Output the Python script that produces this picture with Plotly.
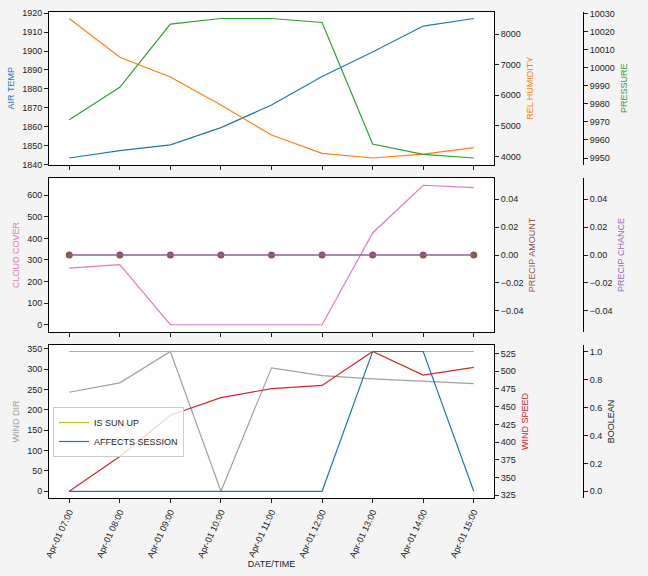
import plotly.graph_objects as go

# ---------------- data ----------------
times = ["2023-04-01 07:00", "2023-04-01 08:00", "2023-04-01 09:00", "2023-04-01 10:00",
         "2023-04-01 11:00", "2023-04-01 12:00", "2023-04-01 13:00", "2023-04-01 14:00",
         "2023-04-01 15:00"]
air_temp = [1843.4, 1847.3, 1850.4, 1859.5, 1871.4, 1886.5, 1899.5, 1913.2, 1917.2]
rel_humidity = [8510, 7240, 6600, 5680, 4700, 4100, 3950, 4080, 4290]
pressure = [9971.2, 9989.1, 10024.1, 10027.2, 10027.2, 10025.0, 9957.7, 9952.0, 9950.0]
cloud_cover = [262, 278, 0, 0, 0, 0, 425, 646, 635]
precip_amount = [0, 0, 0, 0, 0, 0, 0, 0, 0]
precip_chance = [0, 0, 0, 0, 0, 0, 0, 0, 0]
wind_dir = [243, 266, 343, 0, 303, 284, 276, 270, 264]
wind_speed = [330.6, 379.8, 437.9, 462.7, 475.4, 480.0, 527.8, 494.6, 505.4]
is_sun_up = [1, 1, 1, 1, 1, 1, 1, 1, 1]
affects_session = [0, 0, 0, 0, 0, 0, 1, 1, 0]

# ---------------- style ----------------
W, H = 648, 576
FONT = "Liberation Sans Narrow, Liberation Sans, Arial, sans-serif"
FS = 9
BG = "#f4f4f4"
C = dict(blue="#1f77b4", orange="#ff7f0e", green="#2ca02c", red="#d62728",
         purple="#9467bd", brown="#8c564b", pink="#e377c2", gray="#a0a0a0",
         olive="#bcbd22")


def pad(vals, frac=0.05):
    lo, hi = min(vals), max(vals)
    span = hi - lo
    if span == 0:
        lo, hi, span = lo - 0.05, hi + 0.05, 0.1
    return [lo - frac * span, hi + frac * span]


xdom = [49 / W, 494 / W]
ytop = [1 - 165 / H, 1 - 11.5 / H]
ymid = [1 - 331.7 / H, 1 - 178.3 / H]
ybot = [1 - 498.3 / H, 1 - 344.5 / H]
free_pos = 583 / W
xrange_ = ["2023-04-01 06:36", "2023-04-01 15:24"]

fig = go.Figure()
lw = 1.2


def line(x, y, color, xa, ya, name, legend=False, **kw):
    fig.add_trace(go.Scatter(x=x, y=y, mode="lines", line=dict(color=color, width=lw),
                             xaxis=xa, yaxis=ya, name=name, showlegend=legend, **kw))


# top panel
line(times, air_temp, C["blue"], "x", "y", "AIR TEMP")
line(times, rel_humidity, C["orange"], "x", "y2", "REL HUMIDITY")
line(times, pressure, C["green"], "x", "y3", "PRESSURE")
# middle panel
line(times, cloud_cover, C["pink"], "x2", "y4", "CLOUD COVER")
fig.add_trace(go.Scatter(x=times, y=precip_amount, mode="lines+markers",
                         line=dict(color=C["brown"], width=lw),
                         marker=dict(color=C["brown"], size=7),
                         xaxis="x2", yaxis="y5", name="PRECIP AMOUNT", showlegend=False))
line(times, precip_chance, C["purple"], "x2", "y6", "PRECIP CHANCE")
# bottom panel
line(times, wind_dir, C["gray"], "x3", "y7", "WIND DIR")
line(times, wind_speed, C["red"], "x3", "y8", "WIND SPEED")
line(times, is_sun_up, C["olive"], "x3", "y9", "IS SUN UP", legend=True)
line(times, affects_session, C["blue"], "x3", "y9", "AFFECTS SESSION", legend=True)

tickfont = dict(family=FONT, size=FS, color="#222222")


def yax(title, color, dom_or_overlay, rng, dtick, side="left", free=False, fmt=None,
        anchor=None, standoff=6):
    d = dict(title=dict(text=title, font=dict(family=FONT, size=FS, color=color),
                        standoff=standoff),
             range=rng, dtick=dtick, tick0=0, ticks="outside", ticklen=4, tickwidth=1,
             tickcolor="#222", tickfont=tickfont, showgrid=False, zeroline=False,
             showline=True, linecolor="black", linewidth=1, side=side,
             automargin=False, separatethousands=False)
    if fmt:
        d["tickformat"] = fmt
    if isinstance(dom_or_overlay, list):
        d["domain"] = dom_or_overlay
        d["mirror"] = True
        d["anchor"] = anchor
    else:
        d["overlaying"] = dom_or_overlay
        if free:
            d["anchor"] = "free"
            d["position"] = free_pos
        else:
            d["anchor"] = anchor
    return d


def xax(dom_anchor, labels):
    return dict(domain=xdom, anchor=dom_anchor, range=xrange_, type="date",
                tickformat="%b-%d %H:%M", dtick=3600000, tick0="2023-04-01 07:00",
                ticks="outside", ticklen=4, tickcolor="#222", tickfont=tickfont,
                showticklabels=labels, tickangle=-65, showgrid=False, zeroline=False,
                showline=True, linecolor="black", linewidth=1, mirror=True,
                automargin=False)


fig.update_layout(
    width=W, height=H,
    margin=dict(l=0, r=0, t=0, b=0),
    paper_bgcolor=BG, plot_bgcolor="white",
    font=dict(family=FONT, size=FS, color="#222"),
    xaxis=xax("y", False),
    xaxis2=xax("y4", False),
    xaxis3=dict(xax("y7", True), title=dict(text="DATE/TIME",
                                              font=dict(family=FONT, size=FS, color="#222"),
                                              standoff=2)),
    yaxis=yax("AIR TEMP", C["blue"], ytop, pad(air_temp), 10, anchor="x"),
    yaxis2=yax("REL HUMIDITY", C["orange"], "y", pad(rel_humidity), 1000, side="right",
               anchor="x", fmt="d"),
    yaxis3=yax("PRESSURE", C["green"], "y", pad(pressure), 10, side="right", free=True,
               fmt="d"),
    yaxis4=yax("CLOUD COVER", C["pink"], ymid, pad(cloud_cover), 100, anchor="x2"),
    yaxis5=yax("PRECIP AMOUNT", C["brown"], "y4", pad(precip_amount), 0.02, side="right",
               fmt=".2f", anchor="x2"),
    yaxis6=yax("PRECIP CHANCE", C["purple"], "y4", pad(precip_chance), 0.02, side="right",
               free=True, fmt=".2f"),
    yaxis7=yax("WIND DIR", C["gray"], ybot, pad(wind_dir), 50, anchor="x3"),
    yaxis8=yax("WIND SPEED", C["red"], "y7", pad(wind_speed), 25, side="right", anchor="x3"),
    yaxis9=yax("BOOLEAN", "#222", "y7", pad(is_sun_up + affects_session), 0.2, side="right",
               free=True, fmt=".1f"),
    legend=dict(x=53 / W, y=1 - 407 / H, xanchor="left", yanchor="top",
                bgcolor="rgba(255,255,255,0.8)", bordercolor="#cccccc", borderwidth=1,
                font=dict(family=FONT, size=FS, color="#222"), itemwidth=30,
                tracegroupgap=0),
    showlegend=True,
)

fig.write_html(
    "out.html",
    config={"displayModeBar": False},
    post_script="document.body.style.margin='0';document.body.style.overflow='hidden';"
                "document.body.style.background='" + BG + "';",
)
